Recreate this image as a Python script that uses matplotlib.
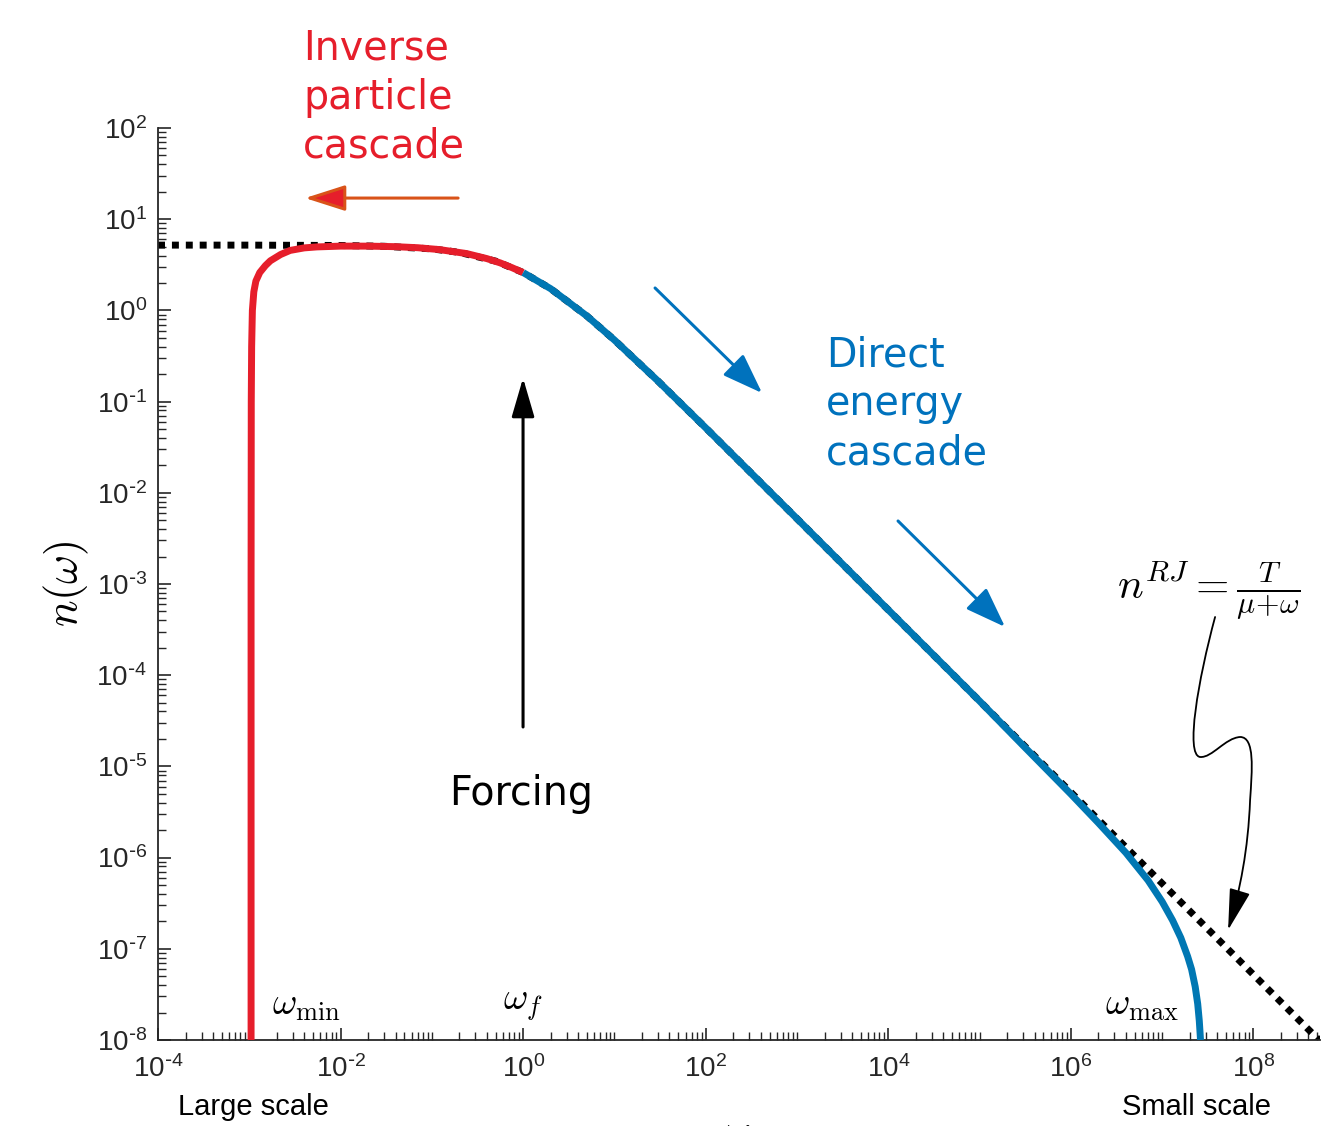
import numpy as np
import matplotlib
matplotlib.use("Agg")
import matplotlib.pyplot as plt
from matplotlib.ticker import LogLocator, NullFormatter, FuncFormatter
from matplotlib.path import Path
from matplotlib.patches import FancyArrowPatch

# values
# Rayleigh-Jeans line n = T/(mu+omega)
rj_omega = [1e-4, 1e-3, 1e-2, 3e-2, 0.1, 0.2, 0.5, 1.0, 2.0, 5.0, 10.0, 30.0,
            1e2, 1e3, 1e4, 1e5, 1e6, 1e7, 1e8, 6e8]
rj_n = [5.2, 5.2, 5.15, 5.05, 4.73, 4.33, 3.47, 2.6, 1.73, 0.867, 0.473, 0.168,
        5.15e-2, 5.2e-3, 5.2e-4, 5.2e-5, 5.2e-6, 5.2e-7, 5.2e-8, 8.7e-9]

# inverse cascade branch (red), omega_min up to omega_f
red_omega = [1.045e-3, 1.045e-3, 1.05e-3, 1.06e-3, 1.08e-3, 1.12e-3, 1.18e-3, 1.3e-3,
             1.5e-3, 1.7e-3, 2.2e-3, 2.8e-3, 4.0e-3, 5.5e-3, 1e-2, 2e-2, 4e-2,
             7e-2, 0.12, 0.24, 0.4, 0.56, 0.75, 1.0]
red_n = [1e-8, 1e-3, 1e-1, 0.4, 1.0, 1.6, 2.1, 2.6,
         3.1, 3.5, 4.1, 4.55, 4.85, 4.97, 5.07, 5.07, 5.0,
         4.87, 4.65, 4.2, 3.7, 3.32, 2.95, 2.6]

# direct cascade branch (blue), omega_f up to omega_max
blue_omega = [1.0, 2.0, 5.0, 10.0, 30.0, 1e2, 1e3, 1e4, 1e5, 3e5, 1e6, 2e6, 4e6,
              7e6, 1e7, 1.3e7, 1.6e7, 1.9e7, 2.1e7, 2.3e7, 2.45e7, 2.55e7, 2.6e7, 2.63e7]
blue_n = [2.6, 1.73, 0.867, 0.473, 0.168, 5.15e-2, 5.2e-3, 5.2e-4, 5.2e-5, 1.69e-5,
          4.97e-6, 2.40e-6, 1.13e-6, 5.63e-7, 3.28e-7, 2.05e-7, 1.32e-7, 8.25e-8,
          5.94e-8, 3.84e-8, 2.49e-8, 1.62e-8, 1.2e-8, 1e-8]

x_limits = (1e-4, 10 ** 8.73)
y_limits = (1e-8, 1e2)

RED = "#E61E2B"
ORANGE = "#D95319"
BLUE = "#0072BD"
LINE_BLUE = "#0077B3"
AXIS_GRAY = "#262626"

plt.rcParams["font.family"] = ["Liberation Sans", "DejaVu Sans"]
plt.rcParams["axes.unicode_minus"] = False


def pow10_label(value, pos):
    # MATLAB style 10^-4 with a short hyphen
    e = int(round(np.log10(value)))
    if e < 0:
        return r"$\mathdefault{10^{\text{-}%d}}$" % (-e)
    return r"$\mathdefault{10^{%d}}$" % e


fig = plt.figure(figsize=(13.27, 11.26), dpi=100)
ax = fig.add_axes([0.1191, 0.0764, 0.8757, 0.8099])

# curves
ax.plot(rj_omega, rj_n, color="k", lw=5, linestyle=(0, (1, 1)),
        dash_capstyle="butt", zorder=2, clip_on=True)
ax.plot(red_omega, red_n, color=RED, lw=5, solid_capstyle="butt", zorder=3)
ax.plot(blue_omega, blue_n, color=LINE_BLUE, lw=5, solid_capstyle="butt", zorder=3)

ax.set_xscale("log")
ax.set_yscale("log")
ax.set_xlim(*x_limits)
ax.set_ylim(*y_limits)

# axes styling (MATLAB-ish, box off)
for side in ["top", "right"]:
    ax.spines[side].set_visible(False)
for side in ["left", "bottom"]:
    ax.spines[side].set_color(AXIS_GRAY)
    ax.spines[side].set_linewidth(1.3)

ax.xaxis.set_major_locator(LogLocator(base=100, numticks=20))
ax.xaxis.set_minor_locator(LogLocator(base=10, subs=np.arange(1, 10), numticks=40))
ax.xaxis.set_major_formatter(FuncFormatter(pow10_label))
ax.xaxis.set_minor_formatter(NullFormatter())
ax.yaxis.set_major_locator(LogLocator(base=10, numticks=20))
ax.yaxis.set_minor_locator(LogLocator(base=10, subs=np.arange(2, 10), numticks=40))
ax.yaxis.set_major_formatter(FuncFormatter(pow10_label))
ax.yaxis.set_minor_formatter(NullFormatter())
ax.tick_params(which="both", direction="in", colors=AXIS_GRAY, top=False, right=False)
ax.tick_params(which="major", length=9, width=1.2, labelsize=20, labelcolor=AXIS_GRAY)
ax.tick_params(which="minor", length=5.5, width=1.0)
ax.tick_params(axis="x", which="major", pad=11)
ax.tick_params(axis="y", which="major", pad=8)

ax.set_ylabel(r"$n(\omega)$", fontsize=32, math_fontfamily="cm", labelpad=4)
# the omega label sits mostly below the canvas edge, as in the reference
ax.set_xlabel(r"$\omega$", fontsize=32, math_fontfamily="cm")
ax.xaxis.set_label_coords(0.498, -0.080)

# cascade texts
ax.text(0.1248, 1.109, "Inverse\nparticle\ncascade", transform=ax.transAxes,
        color=RED, fontsize=28.5, family="DejaVu Sans", ha="left", va="top",
        linespacing=1.29)
ax.text(0.5749, 0.773, "Direct\nenergy\ncascade", transform=ax.transAxes,
        color=BLUE, fontsize=28.5, family="DejaVu Sans", ha="left", va="top",
        linespacing=1.29)
ax.text(0.3124, 0.2577, "Forcing", transform=ax.transAxes, color="k",
        fontsize=28.5, family="DejaVu Sans", ha="center", va="baseline")

# arrows
ax.annotate("", xy=(0.1265, 0.9232), xytext=(0.2582, 0.9232),
            xycoords="axes fraction", textcoords="axes fraction",
            arrowprops=dict(arrowstyle="-|>,head_length=1.25,head_width=0.4",
                            mutation_scale=20, lw=2.2, fc=RED, ec=ORANGE,
                            shrinkA=0, shrinkB=0))
for tail, tip in [((0.4277, 0.8246), (0.5198, 0.7094)),
                  ((0.6368, 0.5691), (0.7289, 0.4529))]:
    ax.annotate("", xy=tip, xytext=tail,
                xycoords="axes fraction", textcoords="axes fraction",
                arrowprops=dict(arrowstyle="-|>,head_length=1.25,head_width=0.45",
                                mutation_scale=20, lw=2.2, fc=BLUE, ec=BLUE,
                                shrinkA=0, shrinkB=0))
ax.annotate("", xy=(0.3141, 0.7259), xytext=(0.3141, 0.3432),
            xycoords="axes fraction", textcoords="axes fraction",
            arrowprops=dict(arrowstyle="-|>,head_length=1.2,head_width=0.35",
                            mutation_scale=20, lw=2.2, fc="k", ec="k",
                            shrinkA=0, shrinkB=0))

# omega markers
ax.text(0.0981, 0.0274, r"$\omega_{\min}$", transform=ax.transAxes,
        fontsize=27, math_fontfamily="cm", ha="left", va="baseline")
ax.text(0.2969, 0.033, r"$\omega_f$", transform=ax.transAxes,
        fontsize=27, math_fontfamily="cm", ha="left", va="baseline")
ax.text(0.815, 0.0274, r"$\omega_{\max}$", transform=ax.transAxes,
        fontsize=27, math_fontfamily="cm", ha="left", va="baseline")

# Rayleigh-Jeans label with squiggly arrow
ax.text(0.8253, 0.4934, r"$n^{RJ}=\frac{T}{\mu\!+\!\omega}$", transform=ax.transAxes,
        fontsize=31, math_fontfamily="cm", ha="left", va="center")


def px(x, y):
    # reference pixel position -> axes fraction
    return ((x - 158) / 1162.0, (1040 - y) / 912.0)


squiggle = Path([px(1215, 617), px(1198, 680), px(1185, 755), px(1200, 757),
                 px(1212, 758), px(1225, 738), px(1240, 737),
                 px(1255, 737), px(1252, 770), px(1250, 800),
                 px(1248, 850), px(1240, 890), px(1228, 930)],
                [Path.MOVETO] + [Path.CURVE4] * 12)
ax.add_patch(FancyArrowPatch(path=squiggle, transform=ax.transAxes,
                             arrowstyle="-|>,head_length=1.3,head_width=0.33",
                             mutation_scale=20, lw=1.3, color="k", clip_on=False))

# scale hints under the axis
ax.text(0.0818, -0.0822, "Large scale", transform=ax.transAxes, fontsize=21,
        ha="center", va="baseline", color="k")
ax.text(0.894, -0.0822, "Small scale", transform=ax.transAxes, fontsize=21,
        ha="center", va="baseline", color="k")

fig.savefig("out.png", dpi=100)
